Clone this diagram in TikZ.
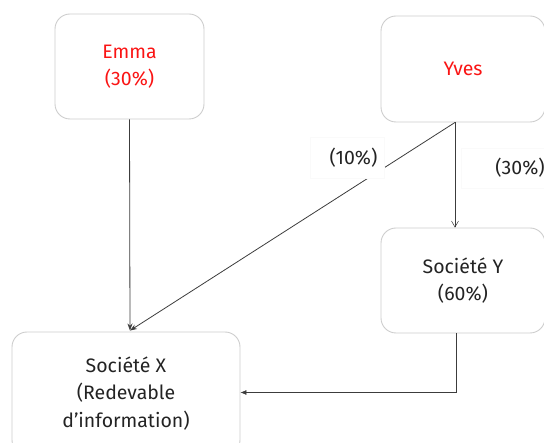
\documentclass[tikz,border=0pt]{standalone}
\usepackage{fontspec}
\setmainfont{Fira Sans}
\usetikzlibrary{arrows.meta,calc}
\definecolor{boxgray}{RGB}{205,205,205}
\definecolor{linegray}{RGB}{60,60,60}
\definecolor{txtgray}{RGB}{35,35,35}
\definecolor{namered}{RGB}{250,20,20}
\tikzset{
  box/.style={draw=boxgray, line width=0.9pt, rounded corners=15pt, align=center,
    font=\fontsize{19.5}{27.5}\selectfont, text=txtgray, inner sep=0pt},
  conn/.style={draw=linegray, line width=0.8pt},
  lbl/.style={fill=white, draw=white!98!black, line width=0.3pt, font=\fontsize{19.5}{27}\selectfont, text=txtgray, inner sep=0pt}
}
\begin{document}
\begin{tikzpicture}[x=1pt,y=-1pt]
\useasboundingbox (0,0) rectangle (544,443);
\node[box, minimum width=149pt, minimum height=105pt, text=namered] (emma) at (129.5,66.5) {Emma\\(30\%)};
\node[box, minimum width=164pt, minimum height=106pt, text=namered] (yves) at (463,69) {Yves};
\node[box, minimum width=164pt, minimum height=105pt] (socy) at (463,280.5) {Société Y\\(60\%)};
\node[box, minimum width=228pt, minimum height=123pt] (socx) at (126,393.5) {Société X\\(Redevable\\d’information)};
\coordinate (ytop) at ($(yves.south)+(-8,0)$);
\coordinate (xtop) at ($(socx.north)+(4,-1)$);
\draw[conn, -{Stealth[length=7pt,width=5pt]}] (emma.south) -- (xtop);
\draw[conn, -{Stealth[length=7pt,width=5pt]}] (ytop) -- (xtop);
\draw[conn, line width=0.5pt, -{Straight Barb[length=6pt,width=7pt]}] (ytop) -- ($(socy.north)+(-8,0)$);
\draw[conn, line width=0.6pt, -{Latex[length=6pt,width=5pt]}] ($(socy.south)+(-7,0)$) |- ($(socx.east)+(0,-1)$);
\node[lbl, minimum width=74pt, minimum height=41pt] (l10) at (347.5,157.5) {\hspace*{12pt}(10\%)};
\node[lbl, minimum width=82pt, minimum height=40pt] (l30) at (503,168) {\hspace*{34pt}(30\%)};
\end{tikzpicture}
\end{document}
